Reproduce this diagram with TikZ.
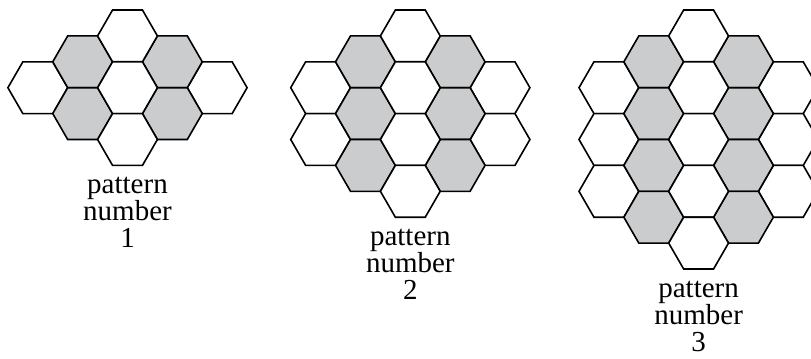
\documentclass[tikz,border=0pt]{standalone}
\usepackage{fontspec}
\setmainfont{Liberation Serif}
\usetikzlibrary{shapes.geometric}
\definecolor{cellGrey}{HTML}{CBCCCE}
\tikzset{
	cell/.style={
		draw,
		line width=1.6bp,
		regular polygon,
		regular polygon sides=6,
		minimum size=59.8bp,
		inner sep=0pt,
		outer sep=0pt,
		fill=white
	},
	shaded cell/.style={
		cell,
		fill=cellGrey
	},
	caption/.style={
		align=center,
		anchor=base,
		inner sep=0pt,
		font=\fontsize{29bp}{27bp}\selectfont
	}
}

\begin{document}
\begin{tikzpicture}[x=1bp, y=-1bp]
\useasboundingbox (0,0) rectangle (811,358);
% ---
% patterns 1 to 3
% ---
\foreach \n/\cx in {1/127.5, 2/410.3, 3/698.6}{
	\pgfmathtruncatemacro{\lastmid}{\n+1}
	\pgfmathtruncatemacro{\lastin}{\n}
	\pgfmathtruncatemacro{\lastout}{\n-1}
	% outer columns, white
	\foreach \j in {0,...,\lastout}{
		\node[cell] (p\n-l2-\j) at (\cx-89.7, 87.7+\j*51.8) {};
		\node[cell] (p\n-r2-\j) at (\cx+89.7, 87.7+\j*51.8) {};
	}
	% inner columns, grey
	\foreach \j in {0,...,\lastin}{
		\node[shaded cell] (p\n-l1-\j) at (\cx-44.85, 61.8+\j*51.8) {};
		\node[shaded cell] (p\n-r1-\j) at (\cx+44.85, 61.8+\j*51.8) {};
	}
	% middle column, white
	\foreach \j in {0,...,\lastmid}{
		\node[cell] (p\n-m-\j) at (\cx, 35.9+\j*51.8) {};
	}
	% anchor=base sits on the last line
	\node[caption] (label-\n) at (\cx, 10+\n*51.8+103.6+27.5+55) {pattern\\number\\\n};
}
\end{tikzpicture}
\end{document}
